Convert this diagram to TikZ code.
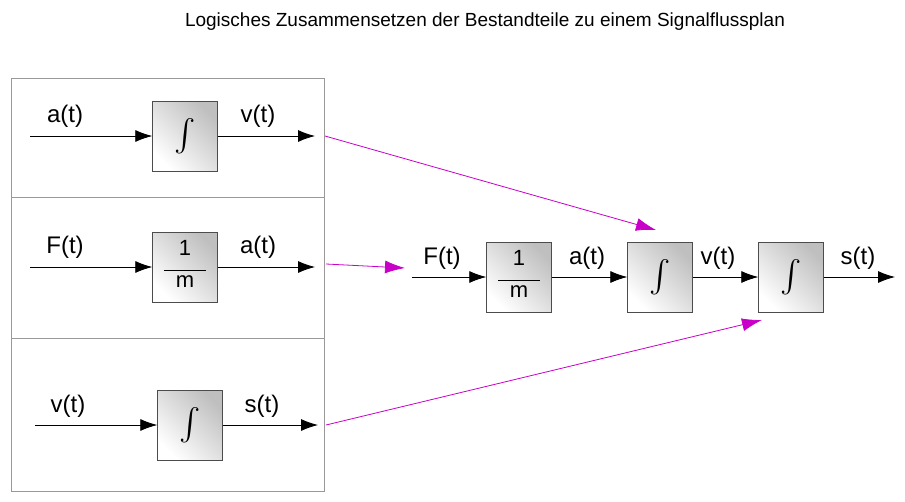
\documentclass[tikz,border=0pt]{standalone}
\usepackage{fontspec}
\setmainfont{Liberation Sans}
\usetikzlibrary{positioning,calc,arrows.meta}

\definecolor{mapcolor}{RGB}{200,0,200}

\begin{document}
\begin{tikzpicture}[x=1pt,y=-1pt]
		\tikzset{blockstyle/.style={draw=black!70,rectangle,minimum width=65pt,minimum height=70pt,
			left color=white,right color=black!25,shading angle=135,inner sep=0pt}}
		\tikzset{sigedge/.style={-{Latex[length=17pt,width=12pt]},line width=0.8pt}}
		\tikzset{mapedge/.style={-{Latex[length=20pt,width=13pt]},mapcolor,line width=0.8pt}}
		\tikzset{siglabel/.style={font=\fontsize{24}{28}\selectfont}}
		
		\useasboundingbox (0,0) rectangle (905,501);
		
		\newcommand\drawBlock[4] % {x} {y} {text} {name}
		{
			\node[blockstyle] at (#1, #2) (#4) {\fontsize{22}{24}\selectfont #3};
		}
		
		\newcommand\intSym{\scalebox{3.2}{$\int$}}
		\newcommand\fracSym{\begin{tabular}{@{}c@{}}1\\[-9pt]\rule{42pt}{0.7pt}\\[-7pt]m\end{tabular}}
		
		\node[font=\fontsize{19}{22}\selectfont] (title) at (485,22) {Logisches Zusammensetzen der Bestandteile zu einem Signalflussplan};
		
		% left panel
		\draw[black!40] (11,78) rectangle (324,491);
		\draw[black!40] (11,197) -- (324,197);
		\draw[black!40] (11,338) -- (324,338);
		
		\drawBlock{185}{136}{\intSym}{ia}
		\drawBlock{185}{267}{\fracSym}{ma}
		\drawBlock{190}{425}{\intSym}{iv}
		
		\coordinate (ia-in) at (30,136);
		\coordinate (ia-out) at (315,136);
		\coordinate (ma-in) at (30,267);
		\coordinate (ma-out) at (315,267);
		\coordinate (iv-in) at (35,425);
		\coordinate (iv-out) at (318,425);
		
		\draw[sigedge] (ia-in) to (ia);
		\draw[sigedge] (ia) to (ia-out);
		\draw[sigedge] (ma-in) to (ma);
		\draw[sigedge] (ma) to (ma-out);
		\draw[sigedge] (iv-in) to (iv);
		\draw[sigedge] (iv) to (iv-out);
		
		\node[siglabel] (la1) at (65,116) {a(t)};
		\node[siglabel] (lv1) at (258,116) {v(t)};
		\node[siglabel] (lF1) at (65,247) {F(t)};
		\node[siglabel] (la2) at (258,247) {a(t)};
		\node[siglabel] (lv2) at (68,406) {v(t)};
		\node[siglabel] (ls1) at (262,406) {s(t)};
		
		% chain
		\drawBlock{519}{277}{\fracSym}{cm}
		\drawBlock{660}{277}{\intSym}{ci1}
		\drawBlock{791}{277}{\intSym}{ci2}
		
		\coordinate (cm-in) at (412,277);
		\coordinate (ci2-out) at (895,277);
		
		\draw[sigedge] (cm-in) to (cm);
		\draw[sigedge] (cm) to (ci1);
		\draw[sigedge] (ci1) to (ci2);
		\draw[sigedge] (ci2) to (ci2-out);
		
		\node[siglabel] (lF3) at (442,258) {F(t)};
		\node[siglabel] (la3) at (587,258) {a(t)};
		\node[siglabel] (lv3) at (718,258) {v(t)};
		\node[siglabel] (ls3) at (858,258) {s(t)};
		
		\coordinate (t1) at (656,230);
		\coordinate (t2) at (405,268);
		\coordinate (t3) at (762,320);
		
		\draw[mapedge] ($(ia-out)+(10,0)$) to (t1);
		\draw[mapedge] ($(ma-out)+(11,-3)$) to (t2);
		\draw[mapedge] ($(iv-out)+(8,0)$) to (t3);
		
\end{tikzpicture}
\end{document}
